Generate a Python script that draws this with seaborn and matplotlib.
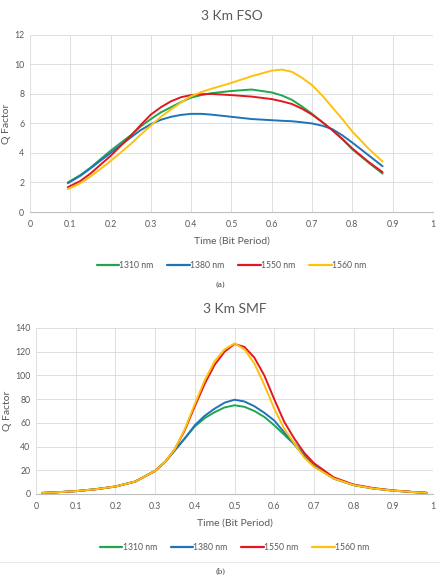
import numpy as np
import pandas as pd
import matplotlib
matplotlib.use('Agg')
import matplotlib.pyplot as plt
import seaborn as sns

# --- data ---
wavelengths = ['1310 nm', '1380 nm', '1550 nm', '1560 nm']
colors = ['#21A550', '#1F73B8', '#E3171E', '#FDC10E']

fso_time = [0.094, 0.125, 0.15, 0.2, 0.25, 0.275, 0.3, 0.325, 0.35, 0.375, 0.4,
            0.425, 0.45, 0.5, 0.55, 0.6, 0.625, 0.65, 0.675, 0.7, 0.725, 0.75,
            0.775, 0.8, 0.84, 0.875]
fso_1310 = [2.0, 2.5, 3.0, 4.15, 5.2, 5.8, 6.3, 6.75, 7.1, 7.45, 7.75,
            7.92, 8.05, 8.2, 8.3, 8.1, 7.9, 7.6, 7.15, 6.65, 6.1, 5.55,
            4.95, 4.25, 3.35, 2.6]
fso_1380 = [1.95, 2.45, 2.95, 4.0, 5.05, 5.55, 5.95, 6.25, 6.45, 6.58, 6.65,
             6.65, 6.6, 6.45, 6.3, 6.22, 6.18, 6.15, 6.08, 6.0, 5.85, 5.62,
             5.2, 4.7, 3.85, 3.1]
fso_1550 = [1.68, 2.1, 2.6, 3.8, 5.15, 5.9, 6.6, 7.1, 7.5, 7.78, 7.92,
            7.98, 8.0, 7.92, 7.82, 7.65, 7.5, 7.32, 7.0, 6.6, 6.1, 5.55,
            4.95, 4.3, 3.4, 2.7]
fso_1560 = [1.55, 1.95, 2.4, 3.45, 4.6, 5.25, 5.85, 6.45, 6.95, 7.42, 7.85,
            8.12, 8.35, 8.75, 9.2, 9.58, 9.65, 9.5, 9.1, 8.6, 7.9, 7.1,
            6.3, 5.45, 4.3, 3.42]

smf_time = [0.016, 0.05, 0.1, 0.15, 0.2, 0.25, 0.3, 0.325, 0.35, 0.375, 0.4,
            0.425, 0.45, 0.475, 0.5, 0.525, 0.55, 0.575, 0.6, 0.625, 0.65,
            0.675, 0.7, 0.75, 0.8, 0.85, 0.9, 0.95, 0.984]
smf_1310 = [0.9, 1.4, 2.4, 4.0, 6.3, 10.5, 19.5, 27, 37, 47, 57,
            64, 69, 73, 74.8, 73.5, 70, 65, 58, 50, 42,
            32, 23.5, 13, 7.5, 4.6, 2.8, 1.6, 1.0]
smf_1380 = [0.9, 1.4, 2.4, 4.0, 6.3, 10.5, 19.5, 27, 37, 47, 58,
            66, 72, 77, 79.5, 78, 74, 68.5, 62, 52, 43,
            33, 24, 13, 7.5, 4.6, 2.8, 1.6, 1.0]
smf_1550 = [0.9, 1.4, 2.4, 4.0, 6.3, 10.5, 19.5, 27, 38, 54, 74,
            93, 109, 120, 126.5, 124, 115, 100, 80, 61, 47,
            35, 26, 14, 8, 5, 3, 1.7, 1.0]
smf_1560 = [0.9, 1.4, 2.4, 4.0, 6.3, 10.5, 19.5, 27, 38, 55, 76,
            96, 112, 122, 127, 122, 110, 92, 72, 55, 43,
            31, 23, 13, 7.5, 4.6, 2.8, 1.6, 1.0]

x_ticks = [0, 0.1, 0.2, 0.3, 0.4, 0.5, 0.6, 0.7, 0.8, 0.9, 1]
x_tick_labels = ['0', '0.1', '0.2', '0.3', '0.4', '0.5', '0.6', '0.7', '0.8', '0.9', '1']


def long_frame(time, series):
    frames = []
    for name, vals in zip(wavelengths, series):
        frames.append(pd.DataFrame({'time': time, 'q': vals, 'wl': name}))
    return pd.concat(frames, ignore_index=True)


fso = long_frame(fso_time, [fso_1310, fso_1380, fso_1550, fso_1560])
smf = long_frame(smf_time, [smf_1310, smf_1380, smf_1550, smf_1560])

sns.set_style('white')
plt.rcParams['font.family'] = ['Lato', 'DejaVu Sans']

fig = plt.figure(figsize=(4.4, 5.75), dpi=100)
ax1 = fig.add_axes([0.068, 0.6313, 0.916, 0.308])
ax2 = fig.add_axes([0.082, 0.1409, 0.902, 0.2887])

text_grey = '#595959'
grid_grey = '#D9D9D9'


def style_axis(ax, title, ymax, ystep):
    ax.set_xlim(0, 1)
    ax.set_ylim(0, ymax)
    ax.set_xticks(x_ticks)
    ax.set_xticklabels(x_tick_labels)
    ax.set_yticks(np.arange(0, ymax + 1, ystep))
    ax.grid(True, color=grid_grey, linewidth=0.6)
    ax.set_axisbelow(True)
    for side in ['top', 'right', 'left']:
        ax.spines[side].set_visible(False)
    ax.spines['bottom'].set_color('#BFBFBF')
    ax.spines['bottom'].set_linewidth(0.8)
    ax.tick_params(axis='both', length=0, labelsize=6.3, colors=text_grey, pad=4)
    ax.tick_params(axis='x', pad=6)
    ax.set_title(title, fontsize=10, color=text_grey, pad=11)
    ax.set_xlabel('Time (Bit Period)', fontsize=7.5, color=text_grey, labelpad=5)
    ax.set_ylabel('Q Factor', fontsize=7.5, color=text_grey, labelpad=2)


for ax, df, title, ymax, ystep, anchor in [
        (ax1, fso, '3 Km FSO', 12, 2, -0.235),
        (ax2, smf, '3 Km SMF', 140, 20, -0.25)]:
    sns.lineplot(data=df, x='time', y='q', hue='wl', palette=colors,
                 linewidth=1.4, ax=ax, sort=True, estimator=None)
    for ln in ax.get_lines():
        ln.set_solid_joinstyle('round')
    style_axis(ax, title, ymax, ystep)
    leg = ax.legend(loc='upper center', bbox_to_anchor=(0.5, anchor), ncol=4,
                    frameon=False, fontsize=6.2, handlelength=2.6,
                    handletextpad=0.05, columnspacing=1.6)
    for t in leg.get_texts():
        t.set_color(text_grey)
    for h in leg.get_lines():
        h.set_linewidth(1.6)

fig.text(0.5, 1 - 285 / 575, '(a)', ha='center', va='center', fontsize=5,
         family='DejaVu Serif', color='#333333')
fig.text(0.5, 1 - 572 / 575, '(b)', ha='center', va='center', fontsize=5,
         family='DejaVu Serif', color='#333333')
fig.add_artist(plt.Line2D([0, 1], [1 - 562 / 575, 1 - 562 / 575],
                          color='#E3E3E3', linewidth=0.6))

fig.savefig('out.png', dpi=100)
